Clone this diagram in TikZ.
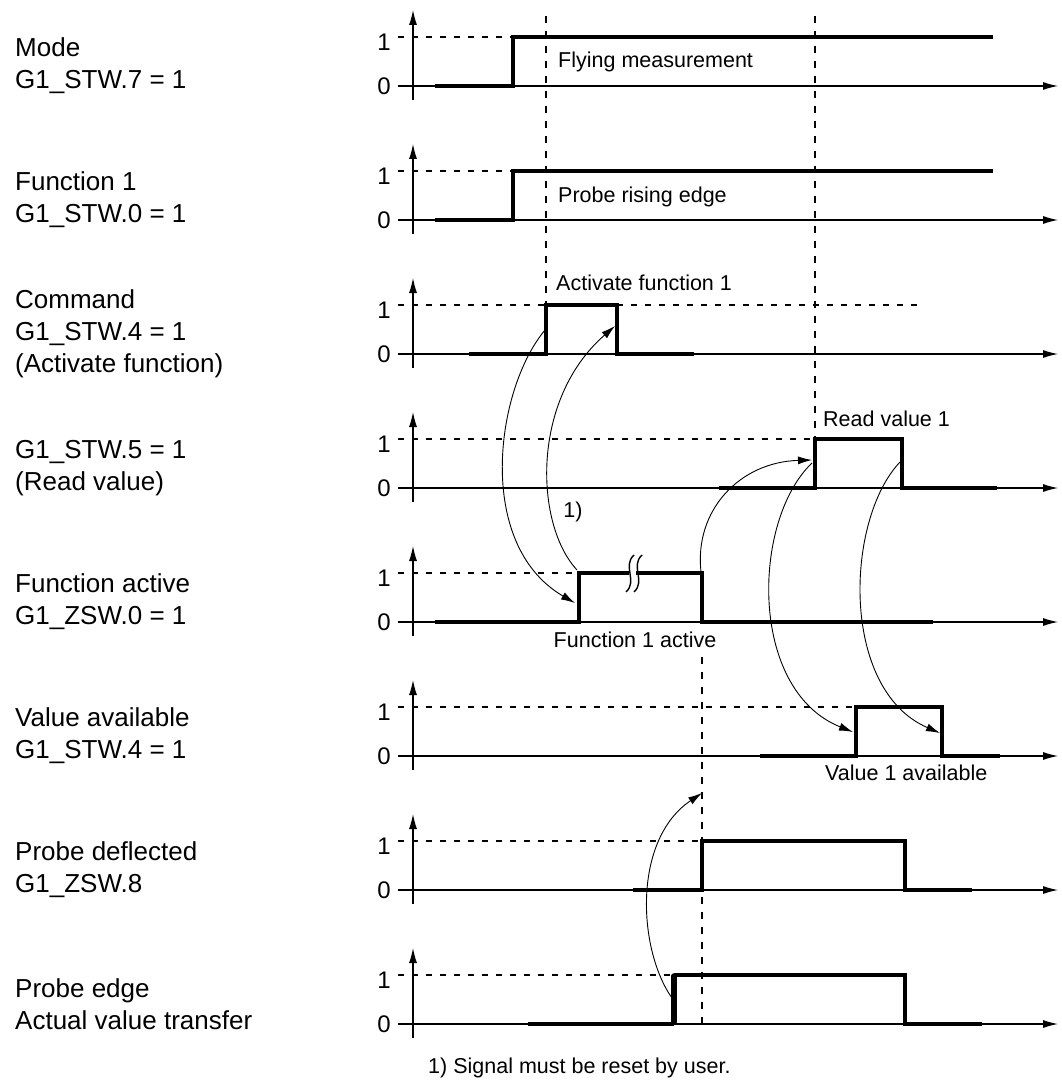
\documentclass[tikz,border=0pt]{standalone}
\usepackage{fontspec}
\setmainfont{Liberation Sans}
\usetikzlibrary{arrows.meta}
\begin{document}
\begin{tikzpicture}[x=1pt,y=-1pt,
  axis/.style={line width=1.1pt, -{Latex[length=15pt,width=8pt]}},
  sig/.style={line width=3.2pt},
  lvl/.style={line width=1.1pt, dash pattern=on 6pt off 8pt},
  vguide/.style={line width=1.2pt, dash pattern=on 7pt off 8pt},
  cause/.style={line width=0.9pt, -{Latex[length=14pt,width=8pt]}},
  lbl/.style={anchor=west, inner sep=0pt, font=\fontsize{26}{32}\selectfont, align=left},
  tick/.style={anchor=east, inner sep=0pt, font=\fontsize{24}{24}\selectfont},
  note/.style={inner sep=0pt, font=\fontsize{21.5}{24}\selectfont}]
\useasboundingbox (0,0) rectangle (1061,1083);

% axes and level ticks for the eight rows
\foreach \i in {1,...,8}{
  \pgfmathsetmacro{\z}{86+134*(\i-1)}
  \coordinate (xs\i) at (398,\z);
  \coordinate (xe\i) at (1058,\z);
  \coordinate (ys\i) at (413,{\z+14});
  \coordinate (ye\i) at (413,{\z-76});
  \draw[axis] (xs\i) -- (xe\i);
  \draw[axis] (ys\i) -- (ye\i);
  \node[tick] (one\i) at (391,{\z-44}) {1};
  \node[tick] (zero\i) at (391,\z) {0};
}

% left labels
\node[lbl] (l1) at (15,66) {Mode\\G1\_STW.7 = 1};
\node[lbl] (l2) at (15,200) {Function 1\\G1\_STW.0 = 1};
\node[lbl] (l3) at (15,334) {Command\\G1\_STW.4 = 1\\(Activate function)};
\node[lbl] (l4) at (15,468) {G1\_STW.5 = 1\\(Read value)};
\node[lbl] (l5) at (15,602) {Function active\\G1\_ZSW.0 = 1};
\node[lbl] (l6) at (15,736) {Value available\\G1\_STW.4 = 1};
\node[lbl] (l7) at (15,870) {Probe deflected\\G1\_ZSW.8};
\node[lbl] (l8) at (15,1004) {Probe edge\\Actual value transfer};

% dashed "1" levels
\draw[lvl] (398,37) -- (513,37);
\draw[lvl] (398,171) -- (513,171);
\draw[lvl] (398,305) -- (546,305);
\draw[lvl] (617,305) -- (920,305);
\draw[lvl] (398,439) -- (815,439);
\draw[lvl] (398,573) -- (579,573);
\draw[lvl] (398,707) -- (856,707);
\draw[lvl] (398,841) -- (702,841);
\draw[lvl] (398,975) -- (674,975);

% vertical guides
\coordinate (g1a) at (546,16);  \coordinate (g1b) at (546,305);
\coordinate (g2a) at (815,16);  \coordinate (g2b) at (815,439);
\coordinate (g3a) at (702,657); \coordinate (g3b) at (702,1024);
\draw[vguide] (g1a) -- (g1b);
\draw[vguide] (g2a) -- (g2b);
\draw[vguide] (g3a) -- (g3b);

% signals
\draw[sig] (435,86) -- (513,86) -- (513,37) -- (993,37);
\draw[sig] (435,220) -- (513,220) -- (513,171) -- (993,171);
\draw[sig] (469,354) -- (546,354) -- (546,305) -- (617,305) -- (617,354) -- (694,354);
\draw[sig] (719,488) -- (815,488) -- (815,439) -- (902,439) -- (902,488) -- (997,488);
\draw[sig] (435,622) -- (579,622) -- (579,573) -- (629,573);
\draw[sig] (636,573) -- (702,573) -- (702,622) -- (933,622);
\draw[sig] (760,756) -- (856,756) -- (856,707) -- (942,707) -- (942,756) -- (1000,756);
\draw[sig] (633,890) -- (702,890) -- (702,841) -- (905,841) -- (905,890) -- (972,890);
\draw[sig] (528,1024) -- (674,1024);
\draw[sig] (674,975) -- (905,975) -- (905,1024) -- (982,1024);
\draw[line width=5.5pt, line cap=round] (674,1022) -- (674,976);

% break mark
\draw[line width=1.4pt] (634,555) .. controls (622,566) and (638,581) .. (626,592);
\draw[line width=1.4pt] (642,555) .. controls (630,566) and (646,581) .. (634,592);

% texts in the plot
\node[note, anchor=west] (t1) at (558,62) {Flying measurement};
\node[note, anchor=west] (t2) at (558,197) {Probe rising edge};
\node[note, anchor=west] (t3) at (556,283) {Activate function 1};
\node[note, anchor=west] (t4) at (823,419) {Read value 1};
\node[note] (fn) at (573,512) {1)};
\node[note] (t5) at (635,640) {Function 1 active};
\node[note, anchor=west] (t6) at (825,773) {Value 1 available};
\node[note, anchor=west] (foot) at (428,1068) {1) Signal must be reset by user.};

% cause-effect arrows
\coordinate (a1s) at (545,330); \coordinate (a1e) at (575,603);
\coordinate (a2s) at (577,570); \coordinate (a2e) at (615,326);
\coordinate (a3s) at (701,572); \coordinate (a3e) at (812,460);
\coordinate (a4s) at (812,463); \coordinate (a4e) at (853,732);
\coordinate (a5s) at (900,462); \coordinate (a5e) at (940,733);
\coordinate (a6s) at (672,998); \coordinate (a6e) at (702,793);
\draw[cause] (a1s) .. controls (495,390) and (475,545) .. (a1e);
\draw[cause] (a2s) .. controls (535,525) and (530,400) .. (a2e);
\draw[cause] (a3s) .. controls (694,510) and (740,462) .. (a3e);
\draw[cause] (a4s) .. controls (752,520) and (748,690) .. (a4e);
\draw[cause] (a5s) .. controls (845,520) and (840,690) .. (a5e);
\draw[cause] (a6s) .. controls (638,950) and (632,840) .. (a6e);
\end{tikzpicture}
\end{document}
